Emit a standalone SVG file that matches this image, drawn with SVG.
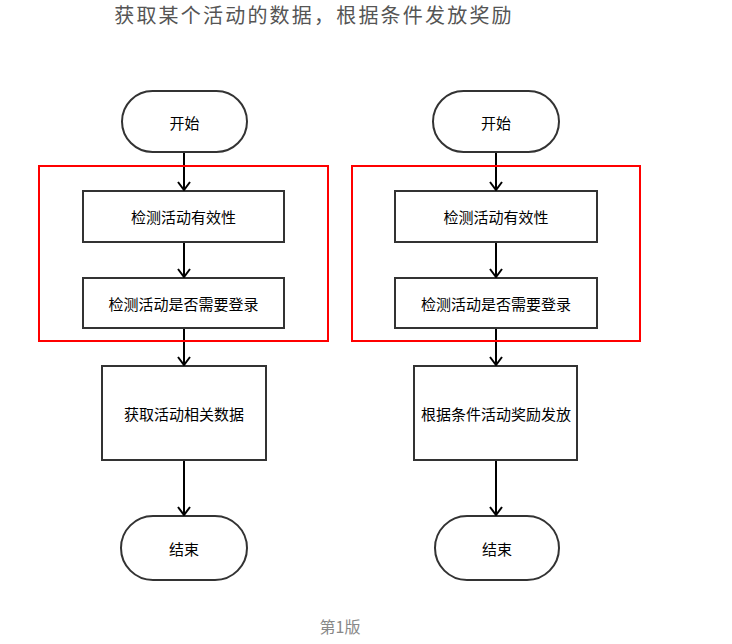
<svg xmlns="http://www.w3.org/2000/svg" width="732" height="644" viewBox="0 0 732 644">
<defs>
<marker id="arr" viewBox="0 0 10 14" refX="9" refY="7" markerWidth="10" markerHeight="14" markerUnits="userSpaceOnUse" orient="auto">
<path d="M1,1 L9,7 L1,13" fill="none" stroke="#000" stroke-width="2"/>
</marker>
<style>
.term{fill:#fff;stroke:#333;stroke-width:2}
.box{fill:#fff;stroke:#333;stroke-width:2}
.grp{fill:none;stroke:#ff0000;stroke-width:2}
.lbl{font-family:"Noto Sans CJK SC","Noto Sans",sans-serif;font-size:15px;fill:#000;text-anchor:middle;dominant-baseline:central}
.edge{stroke:#000;stroke-width:2;fill:none}
</style>
</defs>
<rect width="732" height="644" fill="#fff"/>
<text x="314" y="14" style="font-family:'Noto Sans CJK SC','Noto Sans',sans-serif;font-size:20px;fill:#555;text-anchor:middle;dominant-baseline:central;letter-spacing:2.2px">获取某个活动的数据，根据条件发放奖励</text>

<g id="start-left"><rect class="term" x="122" y="91" width="125" height="61" rx="30.5"/><text class="lbl" x="184.5" y="122">开始</text></g>
<g id="check-valid-left"><rect class="box" x="83" y="191" width="201" height="51"/><text class="lbl" x="183.5" y="216.5">检测活动有效性</text></g>
<g id="check-login-left"><rect class="box" x="83" y="278" width="201" height="50"/><text class="lbl" x="183.5" y="303">检测活动是否需要登录</text></g>
<g id="fetch-data"><rect class="box" x="102" y="366" width="164" height="94"/><text class="lbl" x="184" y="413">获取活动相关数据</text></g>
<g id="end-left"><rect class="term" x="121" y="516" width="126" height="64" rx="32"/><text class="lbl" x="184" y="548">结束</text></g>

<g id="start-right"><rect class="term" x="433" y="91" width="126" height="61" rx="30.5"/><text class="lbl" x="496" y="122">开始</text></g>
<g id="check-valid-right"><rect class="box" x="395" y="191" width="202" height="51"/><text class="lbl" x="496" y="216.5">检测活动有效性</text></g>
<g id="check-login-right"><rect class="box" x="395" y="278" width="202" height="50"/><text class="lbl" x="496" y="303">检测活动是否需要登录</text></g>
<g id="grant-reward"><rect class="box" x="414" y="366" width="163" height="94"/><text class="lbl" x="496" y="413">根据条件活动奖励发放</text></g>
<g id="end-right"><rect class="term" x="435" y="516" width="124" height="64" rx="32"/><text class="lbl" x="497" y="548">结束</text></g>

<g id="connectors">
<line class="edge" x1="184" y1="153" x2="184" y2="190" marker-end="url(#arr)"/>
<line class="edge" x1="184" y1="243" x2="184" y2="277" marker-end="url(#arr)"/>
<line class="edge" x1="184" y1="329" x2="184" y2="365" marker-end="url(#arr)"/>
<line class="edge" x1="184" y1="461" x2="184" y2="515" marker-end="url(#arr)"/>
<line class="edge" x1="496" y1="153" x2="496" y2="190" marker-end="url(#arr)"/>
<line class="edge" x1="496" y1="243" x2="496" y2="277" marker-end="url(#arr)"/>
<line class="edge" x1="496" y1="329" x2="496" y2="365" marker-end="url(#arr)"/>
<line class="edge" x1="496" y1="461" x2="496" y2="515" marker-end="url(#arr)"/>
</g>

<g id="group-left"><rect class="grp" x="39" y="166" width="289" height="175"/></g>
<g id="group-right"><rect class="grp" x="352" y="166" width="288" height="175"/></g>

<text x="340" y="626" style="font-family:'Noto Sans CJK SC','Noto Sans',sans-serif;font-size:16px;fill:#888;text-anchor:middle;dominant-baseline:central">第1版</text>
</svg>
